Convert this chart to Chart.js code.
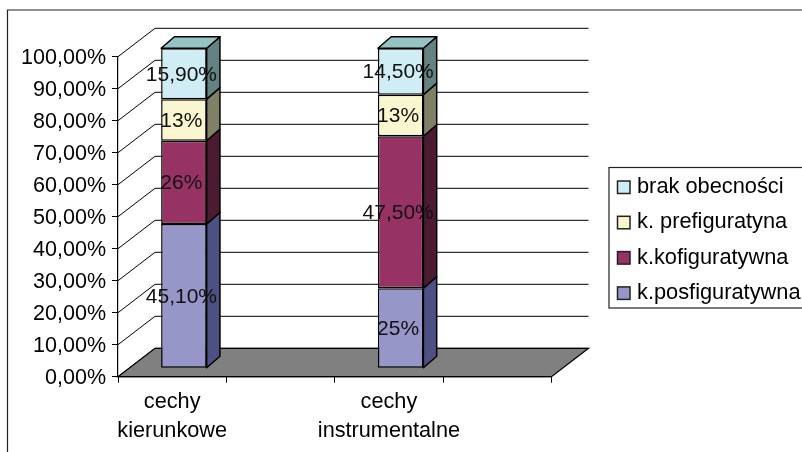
<!DOCTYPE html>
<html>
<head>
<meta charset="utf-8">
<style>
  html, body { margin: 0; padding: 0; background: #fff; overflow: hidden; }
  canvas { display: block; }
</style>
<script src="https://cdn.jsdelivr.net/npm/chart.js@4/dist/chart.umd.min.js"></script>
</head>
<body>
<canvas id="chart" width="802" height="452"></canvas>
<script>
// categories: the sheet has two empty rows, so there are four slots on the axis
const categories = [['cechy', 'kierunkowe'], '', ['cechy', 'instrumentalne'], ''];
const yTickLabels = ['0,00%', '10,00%', '20,00%', '30,00%', '40,00%', '50,00%', '60,00%', '70,00%', '80,00%', '90,00%', '100,00%'];

const posfiguratywna = [45.1, null, 25, null];
const kofiguratywna = [26, null, 47.5, null];
const prefiguratyna = [13, null, 13, null];
const brakObecnosci = [15.9, null, 14.5, null];

const posfiguratywnaLabels = ['45,10%', '', '25%', ''];
const kofiguratywnaLabels = ['26%', '', '47,50%', ''];
const prefiguratynaLabels = ['13%', '', '13%', ''];
const brakObecnosciLabels = ['15,90%', '', '14,50%', ''];

const FONT = '"Liberation Sans", Arial, sans-serif';
const wall = { dx: 37, dy: -28.4 };       // back wall offset from the front plane
const barShift = { dx: 11.7, dy: -8.4 };  // bars stand inside the floor
const depth = { dx: 13.3, dy: -11.6 };    // bar thickness

function makeSeries(label, data, labels, front, side, top) {
    return {
        label, data,
        backgroundColor: front,
        borderColor: '#000',
        borderWidth: 1.5,
        borderSkipped: false,
        clip: false,
        barPercentage: 1,
        categoryPercentage: 0.42,
        valueLabels: labels,
        sideColor: side,
        topColor: top
    };
}

function quad(ctx, pts, fill) {
    ctx.beginPath();
    pts.forEach((p, i) => i ? ctx.lineTo(p[0], p[1]) : ctx.moveTo(p[0], p[1]));
    ctx.closePath();
    ctx.fillStyle = fill;
    ctx.fill();
    ctx.stroke();
}

// walls, floor and the side/top faces of the bars
const chart3d = {
    id: 'chart3d',
    beforeDatasetsDraw(chart) {
        const { ctx, chartArea: a, scales: { y } } = chart;
        ctx.save();
        ctx.strokeStyle = '#000';
        ctx.lineWidth = 1;
        y.ticks.forEach(t => {
            const py = y.getPixelForValue(t.value);
            ctx.beginPath();
            ctx.moveTo(a.left, py);
            ctx.lineTo(a.left + wall.dx, py + wall.dy);
            ctx.lineTo(a.right + wall.dx, py + wall.dy);
            ctx.stroke();
        });
        ctx.lineWidth = 1.2;
        quad(ctx, [[a.left, a.bottom], [a.left + wall.dx, a.bottom + wall.dy],
            [a.right + wall.dx, a.bottom + wall.dy], [a.right, a.bottom]], '#808080');
        ctx.restore();

        ctx.save();
        ctx.translate(barShift.dx, barShift.dy);
        ctx.strokeStyle = '#000';
        ctx.lineWidth = 1.5;
        ctx.lineJoin = 'round';
        chart.data.datasets.forEach((ds, i) => {
            chart.getDatasetMeta(i).data.forEach((bar, j) => {
                if (ds.data[j] === null) return;
                const r = bar.x + bar.width / 2, l = bar.x - bar.width / 2;
                quad(ctx, [[r, bar.y], [r + depth.dx, bar.y + depth.dy],
                    [r + depth.dx, bar.base + depth.dy], [r, bar.base]], ds.sideColor);
                if (i === chart.data.datasets.length - 1) {
                    quad(ctx, [[l, bar.y], [l + depth.dx, bar.y + depth.dy],
                        [r + depth.dx, bar.y + depth.dy], [r, bar.y]], ds.topColor);
                }
            });
        });
        ctx.restore();

        ctx.save();
        ctx.translate(barShift.dx, barShift.dy);
    },
    afterDatasetsDraw(chart) {
        const { ctx } = chart;
        ctx.restore();
        ctx.save();
        ctx.font = '21px ' + FONT;
        ctx.fillStyle = '#111';
        ctx.textAlign = 'center';
        ctx.textBaseline = 'middle';
        chart.data.datasets.forEach((ds, i) => {
            chart.getDatasetMeta(i).data.forEach((bar, j) => {
                if (ds.data[j] === null) return;
                ctx.fillText(ds.valueLabels[j], bar.x + barShift.dx - 2.5, (bar.y + bar.base) / 2 + barShift.dy + 1);
            });
        });
        ctx.restore();
    },
    afterDraw(chart) {
        const { ctx } = chart;
        ctx.save();
        // outer chart frame, cut off by the picture at right and bottom
        ctx.strokeStyle = '#222';
        ctx.lineWidth = 1.2;
        ctx.beginPath();
        ctx.moveTo(7.5, 452);
        ctx.lineTo(7.5, 10);
        ctx.lineTo(802, 10);
        ctx.stroke();
        // legend, top row is the last series
        ctx.strokeRect(609, 167.5, 200, 140.5);
        ctx.font = '21.8px ' + FONT;
        ctx.textBaseline = 'middle';
        ctx.textAlign = 'left';
        chart.data.datasets.slice().reverse().forEach((ds, i) => {
            const cy = 187 + i * 35.3;
            ctx.fillStyle = ds.backgroundColor;
            ctx.fillRect(617.5, cy - 6, 12.5, 12.5);
            ctx.lineWidth = 1.5;
            ctx.strokeRect(617.5, cy - 6, 12.5, 12.5);
            ctx.fillStyle = '#000';
            ctx.fillText(ds.label, 637, cy);
        });
        ctx.restore();
    }
};

new Chart(document.getElementById('chart'), {
    type: 'bar',
    data: {
        labels: categories,
        datasets: [
            makeSeries('k.posfiguratywna', posfiguratywna, posfiguratywnaLabels, '#9696c8', '#4d5082', '#4d5082'),
            makeSeries('k.kofiguratywna', kofiguratywna, kofiguratywnaLabels, '#963264', '#4b1b32', '#4b1b32'),
            makeSeries('k. prefiguratyna', prefiguratyna, prefiguratynaLabels, '#faf7d0', '#808066', '#808066'),
            makeSeries('brak obecności', brakObecnosci, brakObecnosciLabels, '#d0ecf4', '#648282', '#96c3c3')
        ]
    },
    plugins: [chart3d],
    options: {
        responsive: false,
        animation: false,
        devicePixelRatio: 1,
        layout: { padding: { left: 0, right: 250.5, top: 56.7, bottom: 0 } },
        plugins: { legend: { display: false }, tooltip: { enabled: false } },
        scales: {
            x: {
                stacked: true,
                grid: { offset: true, drawOnChartArea: false, drawTicks: true, tickLength: 6, color: '#000' },
                border: { color: '#000', width: 1.2 },
                ticks: {
                    color: '#000', autoSkip: false, maxRotation: 0, padding: 5,
                    font: { family: FONT, size: 21.7, lineHeight: 1.32 }
                },
                afterFit(scale) { scale.height = 75.3; }
            },
            y: {
                stacked: true,
                min: 0,
                max: 100,
                grid: { drawOnChartArea: false, drawTicks: true, tickLength: 6, color: '#000' },
                border: { color: '#000', width: 1.2 },
                ticks: {
                    stepSize: 10, color: '#000', padding: 6,
                    // empty first line nudges the text down a little, like the original
                    font: { family: FONT, size: 21.5, lineHeight: 0.16 },
                    callback: (v, i) => ['', yTickLabels[i]]
                },
                afterFit(scale) { scale.width = 118; }
            }
        }
    }
});
</script>
</body>
</html>
